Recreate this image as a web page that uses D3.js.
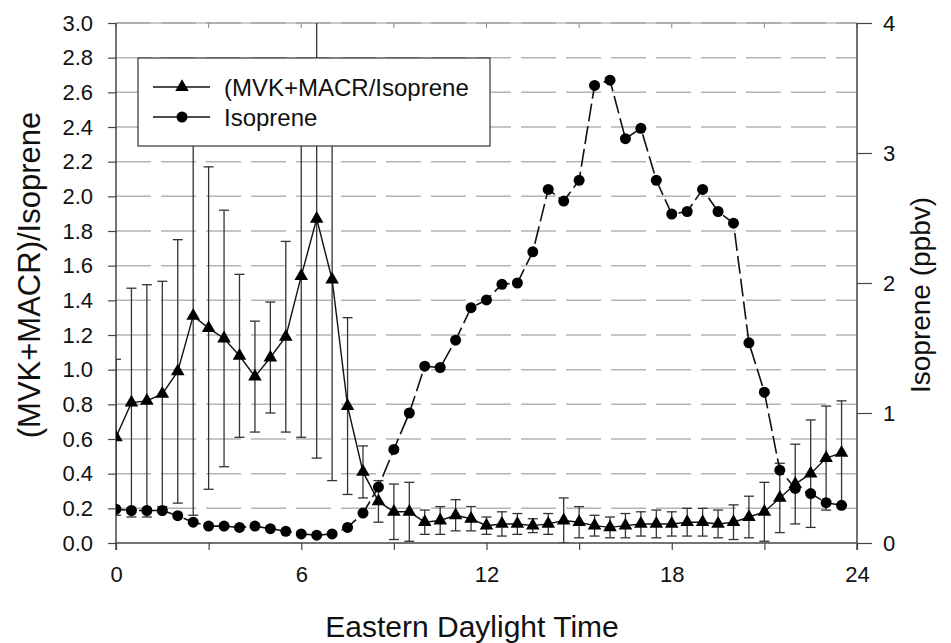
<!DOCTYPE html>
<html>
<head>
<meta charset="utf-8">
<script src="https://cdn.jsdelivr.net/npm/d3@7"></script>
<style>
  body { margin: 0; background: #fff; }
  text { font-family: "Liberation Sans", Arial, sans-serif; fill: #111; }
</style>
</head>
<body>
<div id="container"></div>
<script>
"use strict";

const hours = [0, 0.5, 1, 1.5, 2, 2.5, 3, 3.5, 4, 4.5, 5, 5.5, 6, 6.5, 7, 7.5,
  8, 8.5, 9, 9.5, 10, 10.5, 11, 11.5, 12, 12.5, 13, 13.5, 14, 14.5, 15, 15.5,
  16, 16.5, 17, 17.5, 18, 18.5, 19, 19.5, 20, 20.5, 21, 21.5, 22, 22.5, 23, 23.5];

const ratio = [0.61, 0.81, 0.82, 0.86, 0.99, 1.31, 1.24, 1.18, 1.08, 0.96, 1.07, 1.19, 1.54, 1.87, 1.52, 0.79,
  0.41, 0.24, 0.18, 0.18, 0.12, 0.13, 0.16, 0.14, 0.10, 0.11, 0.11, 0.10, 0.11, 0.13, 0.12, 0.10,
  0.09, 0.10, 0.11, 0.11, 0.11, 0.12, 0.12, 0.11, 0.12, 0.15, 0.18, 0.26, 0.34, 0.40, 0.49, 0.52];

const ratioErr = [0.45, 0.66, 0.67, 0.65, 0.76, 1.15, 0.93, 0.74, 0.47, 0.32, 0.32, 0.55, 0.93, 1.38, 1.16, 0.51,
  0.15, 0.12, 0.16, 0.17, 0.07, 0.08, 0.09, 0.07, 0.05, 0.07, 0.06, 0.04, 0.06, 0.13, 0.09, 0.06,
  0.06, 0.07, 0.07, 0.08, 0.07, 0.08, 0.08, 0.08, 0.10, 0.12, 0.17, 0.20, 0.23, 0.31, 0.30, 0.30];

const isoprene = [0.26, 0.25, 0.25, 0.25, 0.21, 0.16, 0.13, 0.13, 0.12, 0.13, 0.11, 0.09, 0.07, 0.06, 0.07, 0.12,
  0.23, 0.43, 0.72, 1.00, 1.36, 1.35, 1.56, 1.81, 1.87, 1.99, 2.00, 2.24, 2.72, 2.63, 2.79, 3.52,
  3.56, 3.11, 3.19, 2.79, 2.53, 2.55, 2.72, 2.55, 2.46, 1.54, 1.16, 0.56, 0.42, 0.38, 0.31, 0.29];

const xTicks = [0, 3, 6, 9, 12, 15, 18, 21, 24];
const xLabels = [0, 6, 12, 18, 24];
const leftTicks = [0, 0.2, 0.4, 0.6, 0.8, 1.0, 1.2, 1.4, 1.6, 1.8, 2.0, 2.2, 2.4, 2.6, 2.8, 3.0];
const rightTicks = [0, 1, 2, 3, 4];

const seriesNames = ["(MVK+MACR/Isoprene", "Isoprene"];

const width = 951;
const height = 643;
const margin = { top: 23, right: 94, bottom: 100, left: 116 };

const svg = d3.select("#container")
  .append("svg")
  .attr("width", width)
  .attr("height", height);

const x = d3.scaleLinear().domain([0, 24]).range([margin.left, width - margin.right]);
const yL = d3.scaleLinear().domain([0, 3]).range([height - margin.bottom, margin.top]);
const yR = d3.scaleLinear().domain([0, 4]).range([height - margin.bottom, margin.top]);

svg.append("clipPath")
  .attr("id", "plot-clip")
  .append("rect")
  .attr("x", margin.left)
  .attr("y", margin.top)
  .attr("width", width - margin.left - margin.right)
  .attr("height", height - margin.top - margin.bottom);

// grid lines
svg.append("g")
  .selectAll("line")
  .data(leftTicks.slice(1))
  .join("line")
  .attr("x1", margin.left)
  .attr("x2", width - margin.right)
  .attr("y1", d => yL(d))
  .attr("y2", d => yL(d))
  .attr("stroke", "#b4b4b4")
  .attr("stroke-width", 1.5)
  .attr("stroke-dasharray", "35,10");

// top frame
svg.append("line")
  .attr("x1", margin.left).attr("x2", width - margin.right)
  .attr("y1", margin.top).attr("y2", margin.top)
  .attr("stroke", "#999").attr("stroke-width", 1);

svg.append("g")
  .selectAll("line")
  .data(xTicks)
  .join("line")
  .attr("x1", d => x(d)).attr("x2", d => x(d))
  .attr("y1", margin.top).attr("y2", margin.top + 5)
  .attr("stroke", "#888");

// axes
const leftAxis = d3.axisLeft(yL)
  .tickValues(leftTicks)
  .tickFormat(d3.format(".1f"))
  .tickSize(8)
  .tickPadding(15);

const rightAxis = d3.axisRight(yR)
  .tickValues(rightTicks)
  .tickFormat(d3.format("d"))
  .tickSize(15)
  .tickPadding(11);

const bottomAxis = d3.axisBottom(x)
  .tickValues(xTicks)
  .tickFormat(d => xLabels.includes(d) ? d : "")
  .tickSize(7)
  .tickPadding(16);

function styleAxis(g) {
  g.select(".domain").attr("stroke", "#444").attr("stroke-width", 1.5);
  g.selectAll(".tick line").attr("stroke", "#444").attr("stroke-width", 1.2);
  g.selectAll(".tick text")
    .attr("font-size", 22)
    .attr("font-family", "Liberation Sans, Arial, sans-serif")
    .attr("fill", "#111");
}

svg.append("g")
  .attr("transform", `translate(${margin.left},0)`)
  .call(leftAxis)
  .call(g => g.select(".domain").attr("d", `M-0,${height - margin.bottom + 7}V${margin.top}`))
  .call(styleAxis);

svg.append("g")
  .attr("transform", `translate(${width - margin.right},0)`)
  .call(rightAxis)
  .call(g => g.select(".domain").attr("d", `M0,${height - margin.bottom + 7}V${margin.top}`))
  .call(styleAxis);

svg.append("g")
  .attr("transform", `translate(0,${height - margin.bottom})`)
  .call(bottomAxis)
  .call(g => g.select(".domain").attr("d", `M${margin.left},0H${width - margin.right}`))
  .call(styleAxis);

// axis titles
svg.append("text")
  .attr("x", 472)
  .attr("y", 637)
  .attr("text-anchor", "middle")
  .attr("font-size", 30)
  .text("Eastern Daylight Time");

svg.append("text")
  .attr("transform", "translate(40,275) rotate(-90)")
  .attr("text-anchor", "middle")
  .attr("font-size", 31)
  .text("(MVK+MACR)/Isoprene");

svg.append("text")
  .attr("transform", "translate(930,295) rotate(-90)")
  .attr("text-anchor", "middle")
  .attr("font-size", 28)
  .text("Isoprene (ppbv)");

const plot = svg.append("g").attr("clip-path", "url(#plot-clip)");

// error bars
const bars = plot.append("g")
  .attr("stroke", "#333")
  .attr("stroke-width", 1.3)
  .selectAll("g")
  .data(hours)
  .join("g");

bars.append("line")
  .attr("x1", d => x(d)).attr("x2", d => x(d))
  .attr("y1", (d, i) => yL(ratio[i] - ratioErr[i]))
  .attr("y2", (d, i) => yL(ratio[i] + ratioErr[i]));

bars.append("line")
  .attr("x1", d => x(d) - 5).attr("x2", d => x(d) + 5)
  .attr("y1", (d, i) => yL(ratio[i] + ratioErr[i]))
  .attr("y2", (d, i) => yL(ratio[i] + ratioErr[i]));

bars.append("line")
  .attr("x1", d => x(d) - 5).attr("x2", d => x(d) + 5)
  .attr("y1", (d, i) => yL(ratio[i] - ratioErr[i]))
  .attr("y2", (d, i) => yL(ratio[i] - ratioErr[i]));

// ratio series
const ratioLine = d3.line()
  .x(d => x(d))
  .y((d, i) => yL(ratio[i]));

plot.append("path")
  .datum(hours)
  .attr("d", ratioLine)
  .attr("fill", "none")
  .attr("stroke", "#111")
  .attr("stroke-width", 1.4);

const triangle = d3.symbol().type(d3.symbolTriangle).size(80);

plot.append("g")
  .selectAll("path")
  .data(hours)
  .join("path")
  .attr("d", triangle)
  .attr("transform", (d, i) => `translate(${x(d)},${yL(ratio[i])})`)
  .attr("fill", "#000");

// isoprene series
const isoLine = d3.line()
  .x(d => x(d))
  .y((d, i) => yR(isoprene[i]));

plot.append("path")
  .datum(hours)
  .attr("d", isoLine)
  .attr("fill", "none")
  .attr("stroke", "#111")
  .attr("stroke-width", 1.6)
  .attr("stroke-dasharray", "18,5");

plot.append("g")
  .selectAll("circle")
  .data(hours)
  .join("circle")
  .attr("cx", d => x(d))
  .attr("cy", (d, i) => yR(isoprene[i]))
  .attr("r", 5.5)
  .attr("fill", "#000");

// legend
const legend = svg.append("g");

legend.append("rect")
  .attr("x", 138).attr("y", 58)
  .attr("width", 352).attr("height", 88)
  .attr("fill", "#fff")
  .attr("stroke", "#333")
  .attr("stroke-width", 1.2);

const rows = legend.selectAll("g.row")
  .data(seriesNames)
  .join("g")
  .attr("class", "row")
  .attr("transform", (d, i) => `translate(0,${87 + i * 30})`);

rows.append("line")
  .attr("x1", 153).attr("x2", 210)
  .attr("stroke", "#111").attr("stroke-width", 1.4);

rows.filter((d, i) => i === 0)
  .append("path")
  .attr("d", triangle)
  .attr("transform", "translate(182,0)");

rows.filter((d, i) => i === 1)
  .append("circle")
  .attr("cx", 182).attr("r", 5.5);

rows.append("text")
  .attr("x", 224)
  .attr("y", 9)
  .attr("font-size", 24)
  .text(d => d);
</script>
</body>
</html>
